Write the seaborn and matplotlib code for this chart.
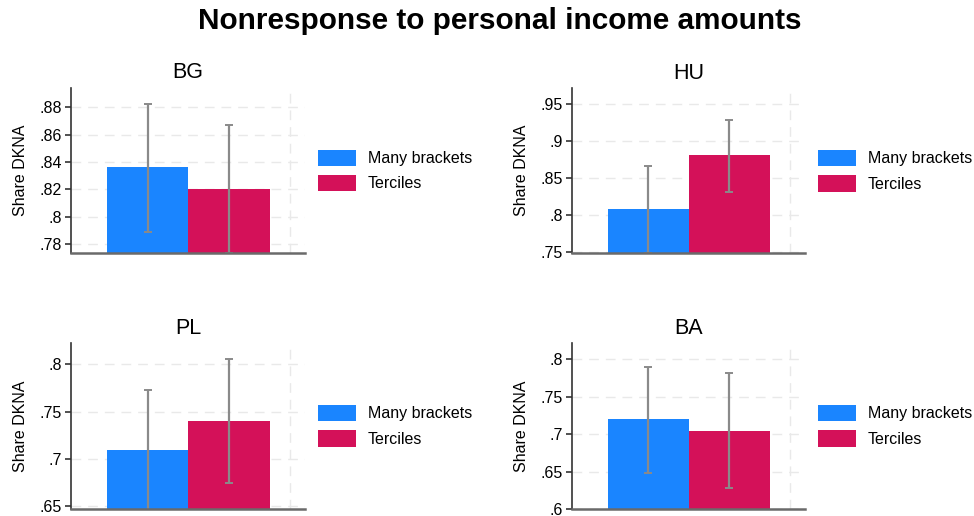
import matplotlib
matplotlib.use("Agg")
import matplotlib.pyplot as plt
from matplotlib.ticker import FuncFormatter
import seaborn as sns
import pandas as pd

# Survey nonresponse (share "don't know / no answer") by income question format
countries = ["BG", "HU", "PL", "BA"]
methods = ["Many brackets", "Terciles"]

share_bg = [0.8364, 0.8202]
low_bg = [0.7892, 0.7735]
high_bg = [0.8826, 0.8673]

share_hu = [0.8085, 0.8813]
low_hu = [0.7490, 0.8318]
high_hu = [0.8668, 0.9284]

share_pl = [0.7095, 0.7400]
low_pl = [0.6462, 0.6740]
high_pl = [0.7728, 0.8053]

share_ba = [0.7200, 0.7048]
low_ba = [0.6488, 0.6284]
high_ba = [0.7901, 0.7817]

yticks_bg = [0.78, 0.80, 0.82, 0.84, 0.86, 0.88]
yticks_hu = [0.75, 0.80, 0.85, 0.90, 0.95]
yticks_pl = [0.65, 0.70, 0.75, 0.80]
yticks_ba = [0.60, 0.65, 0.70, 0.75, 0.80]

ylim_bg = (0.7737, 0.894)
ylim_hu = (0.7487, 0.971)
ylim_pl = (0.6465, 0.8222)
ylim_ba = (0.600, 0.8213)

panels = {
    "BG": (share_bg, low_bg, high_bg, yticks_bg, ylim_bg),
    "HU": (share_hu, low_hu, high_hu, yticks_hu, ylim_hu),
    "PL": (share_pl, low_pl, high_pl, yticks_pl, ylim_pl),
    "BA": (share_ba, low_ba, high_ba, yticks_ba, ylim_ba),
}

colors = ["#1A85FF", "#D41159"]

sns.set_theme(style="white")
plt.rcParams["font.family"] = ["Liberation Sans", "DejaVu Sans"]
plt.rcParams["text.color"] = "black"
plt.rcParams["axes.labelcolor"] = "black"
plt.rcParams["xtick.color"] = "black"
plt.rcParams["ytick.color"] = "black"

W, H = 974, 516
fig = plt.figure(figsize=(W / 100, H / 100), dpi=100, facecolor="white")

# axes rectangles in pixels: left, top, right, bottom
boxes = {
    "BG": (71, 88, 305, 253),
    "HU": (571.7, 88.3, 805, 253.3),
    "PL": (71, 343.3, 305, 509.3),
    "BA": (571.7, 343.3, 805, 509.3),
}


def fmt(v, _pos):
    s = ("%g" % round(v, 4))
    return s[1:] if s.startswith("0.") else s


for c in countries:
    share, lo, hi, ticks, ylim = panels[c]
    l, t, r, b = boxes[c]
    ax = fig.add_axes([l / W, 1 - b / H, (r - l) / W, (b - t) / H])
    df = pd.DataFrame({"country": [c, c], "method": methods, "share": share})
    sns.barplot(data=df, x="country", y="share", hue="method",
                palette=colors, saturation=1, errorbar=None, width=0.8,
                linewidth=0, edgecolor="none", ax=ax, legend=True)

    # confidence intervals drawn at the centres of the dodged bars
    for bar, s, lo_v, hi_v in zip(ax.patches, share, lo, hi):
        xc = bar.get_x() + bar.get_width() / 2
        ax.errorbar([xc], [s], yerr=[[s - lo_v], [hi_v - s]], fmt="none",
                    ecolor="#8a8a8a", elinewidth=1.6, capsize=3,
                    capthick=1.4, zorder=2.2)

    ax.set_xlim(-0.577, 0.574)
    ax.set_ylim(*ylim)
    ax.set_yticks(ticks)
    ax.yaxis.set_major_formatter(FuncFormatter(fmt))
    ax.set_xticks([0.5])
    ax.set_xticklabels([""])
    ax.set_xlabel("")
    ax.set_ylabel("Share DKNA", fontsize=11.5)
    ax.yaxis.set_label_coords(-0.185, 0.5)
    ax.set_title(c, fontsize=15.5, pad=7)

    ax.set_axisbelow(True)
    ax.grid(True, axis="both", color="#e9e9e9", linewidth=1.0,
            linestyle=(0, (7, 5)))
    ax.tick_params(axis="y", which="major", direction="out", length=4.5,
                   width=1.1, color="#222222", labelsize=11.5, pad=2,
                   left=True)
    ax.tick_params(axis="x", length=0)
    for side in ["top", "right"]:
        ax.spines[side].set_visible(False)
    ax.spines["left"].set_color("#333333")
    ax.spines["left"].set_linewidth(1.2)
    ax.spines["bottom"].set_color("#6a6a6a")
    ax.spines["bottom"].set_linewidth(1.8)

    handles, labels = ax.get_legend_handles_labels()
    ax.legend(handles, labels, loc="upper left",
              bbox_to_anchor=((r + 13) / W, 1 - (t + 61.5) / H),
              bbox_transform=fig.transFigure, frameon=False, fontsize=11.5,
              handlelength=2.38, handleheight=1.2, handletextpad=0.75,
              labelspacing=0.55, borderpad=0, borderaxespad=0)

fig.text(499.5 / W, 1 - 29 / H, "Nonresponse to personal income amounts",
         ha="center", va="baseline", fontsize=21.4, fontweight="bold")

fig.savefig("out.png", dpi=100, facecolor="white")
